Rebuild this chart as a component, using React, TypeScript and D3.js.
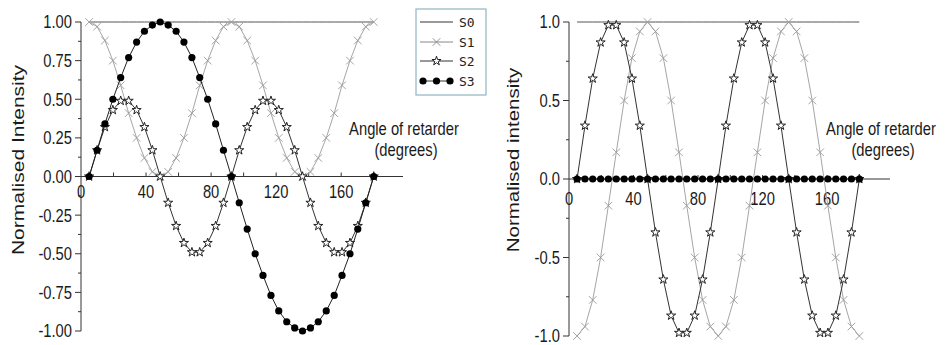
import React from "react";
import * as d3 from "d3";

// angle of retarder (degrees) for each measured point
const angles = [
  5.0, 9.9, 14.7, 19.6, 24.4, 29.3, 34.2, 39.0, 43.9, 48.7, 53.6, 58.5, 63.3, 68.2, 73.0, 77.9, 82.8, 87.6, 92.5,
  97.3, 102.2, 107.1, 111.9, 116.8, 121.6, 126.5, 131.4, 136.2, 141.1, 145.9, 150.8, 155.7, 160.5, 165.4, 170.2,
  175.1, 180.0,
];

const s0 = [
  1, 1, 1, 1, 1, 1, 1, 1, 1, 1, 1, 1, 1, 1, 1, 1, 1, 1, 1, 1, 1, 1, 1, 1, 1, 1, 1, 1, 1, 1, 1, 1, 1, 1, 1, 1, 1,
];

// left panel
const leftS1 = [
  1.0, 0.97, 0.88, 0.75, 0.59, 0.41, 0.25, 0.12, 0.03, 0.0, 0.03, 0.12, 0.25, 0.41, 0.59, 0.75, 0.88, 0.97, 1.0, 0.97,
  0.88, 0.75, 0.59, 0.41, 0.25, 0.12, 0.03, 0.0, 0.03, 0.12, 0.25, 0.41, 0.59, 0.75, 0.88, 0.97, 1.0,
];
const leftS2 = [
  0.0, 0.17, 0.32, 0.43, 0.49, 0.49, 0.43, 0.32, 0.17, 0.0, -0.17, -0.32, -0.43, -0.49, -0.49, -0.43, -0.32, -0.17,
  0.0, 0.17, 0.32, 0.43, 0.49, 0.49, 0.43, 0.32, 0.17, 0.0, -0.17, -0.32, -0.43, -0.49, -0.49, -0.43, -0.32, -0.17, 0.0,
];
const leftS3 = [
  0.0, 0.17, 0.34, 0.5, 0.64, 0.77, 0.87, 0.94, 0.98, 1.0, 0.98, 0.94, 0.87, 0.77, 0.64, 0.5, 0.34, 0.17, 0.0, -0.17,
  -0.34, -0.5, -0.64, -0.77, -0.87, -0.94, -0.98, -1.0, -0.98, -0.94, -0.87, -0.77, -0.64, -0.5, -0.34, -0.17, 0.0,
];

// right panel
const rightS1 = [
  -1.0, -0.94, -0.77, -0.5, -0.17, 0.17, 0.5, 0.77, 0.94, 1.0, 0.94, 0.77, 0.5, 0.17, -0.17, -0.5, -0.77, -0.94, -1.0,
  -0.94, -0.77, -0.5, -0.17, 0.17, 0.5, 0.77, 0.94, 1.0, 0.94, 0.77, 0.5, 0.17, -0.17, -0.5, -0.77, -0.94, -1.0,
];
const rightS2 = [
  0.0, 0.34, 0.64, 0.87, 0.98, 0.98, 0.87, 0.64, 0.34, 0.0, -0.34, -0.64, -0.87, -0.98, -0.98, -0.87, -0.64, -0.34,
  0.0, 0.34, 0.64, 0.87, 0.98, 0.98, 0.87, 0.64, 0.34, 0.0, -0.34, -0.64, -0.87, -0.98, -0.98, -0.87, -0.64, -0.34, 0.0,
];
const rightS3 = [
  0, 0, 0, 0, 0, 0, 0, 0, 0, 0, 0, 0, 0, 0, 0, 0, 0, 0, 0, 0, 0, 0, 0, 0, 0, 0, 0, 0, 0, 0, 0, 0, 0, 0, 0, 0, 0,
];

const xTickLabels = [0, 40, 80, 120, 160];
const xMinorTicks = [20, 40, 60, 80, 100, 120, 140, 160, 180];
const legendNames = ["S0", "S1", "S2", "S3"];

const FONT = "'Liberation Sans', Arial, sans-serif";
const SQUEEZE = 0.82; // the figure is horizontally squashed

const starPath = d3.symbol().type(d3.symbolStar).size(26)() as string;
const crossPath = "M-3.8,-3.8L3.8,3.8M-3.8,3.8L3.8,-3.8";

const Txt = ({ x, y, size, anchor = "middle", rot = false, dy = "0", children }: any) => (
  <text
    transform={`translate(${x},${y}) scale(${SQUEEZE},1)${rot ? " rotate(-90)" : ""}`}
    textAnchor={anchor}
    dy={dy}
    fontFamily={FONT}
    fontSize={size}
    fill="#1a1a1a"
  >
    {children}
  </text>
);

const Panel = ({ cfg }: any) => {
  const x = d3.scaleLinear().domain(cfg.xDomain).range(cfg.xRange);
  const y = d3.scaleLinear().domain([-1, 1]).range(cfg.yRange);
  const line = d3
    .line<number>()
    .x((_, i) => x(angles[i]))
    .y((d) => y(d));
  const y0 = y(0);
  const x0 = x(0);

  return (
    <g>
      {/* axes */}
      <line x1={x0} x2={x0} y1={y(1)} y2={y(-1)} stroke="#333" strokeWidth={1} />
      <line x1={x0} x2={x(cfg.xDomain[1])} y1={y0} y2={y0} stroke="#333" strokeWidth={1} />
      {cfg.yMinor.map((v: number) => (
        <line key={"ym" + v} x1={x0 - 3} x2={x0} y1={y(v)} y2={y(v)} stroke="#333" />
      ))}
      {cfg.yMajor.map((v: number) => (
        <g key={"y" + v}>
          <line x1={x0 - 6} x2={x0} y1={y(v)} y2={y(v)} stroke="#333" />
          <Txt x={x0 - 9} y={y(v)} size={18} anchor="end" dy="0.36em">
            {v.toFixed(cfg.yDigits)}
          </Txt>
        </g>
      ))}
      {xMinorTicks.map((v) => (
        <line key={"xm" + v} x1={x(v)} x2={x(v)} y1={y0} y2={y0 - 4} stroke="#333" />
      ))}
      {xTickLabels.map((v) => (
        <Txt key={"x" + v} x={x(v)} y={y0 + cfg.xLabelDy} size={18}>
          {v}
        </Txt>
      ))}

      {/* S0 */}
      <path d={line(s0) as string} fill="none" stroke="#555" strokeWidth={1} />
      {/* S1 */}
      <path d={line(cfg.s1) as string} fill="none" stroke="#a6a6a6" strokeWidth={1} />
      {cfg.s1.map((v: number, i: number) => (
        <path key={"s1" + i} d={crossPath} transform={`translate(${x(angles[i])},${y(v)})`} stroke="#9a9a9a" strokeWidth={0.9} fill="none" />
      ))}
      {/* S2 */}
      <path d={line(cfg.s2) as string} fill="none" stroke="#333" strokeWidth={1} />
      {cfg.s2.map((v: number, i: number) => (
        <path key={"s2" + i} d={starPath} transform={`translate(${x(angles[i])},${y(v)})`} fill="#fff" stroke="#222" strokeWidth={1} />
      ))}
      {/* S3 */}
      <path d={line(cfg.s3) as string} fill="none" stroke="#222" strokeWidth={1} />
      {cfg.s3.map((v: number, i: number) => (
        <circle key={"s3" + i} cx={x(angles[i])} cy={y(v)} r={3.6} fill="#000" />
      ))}

      {/* titles */}
      <Txt x={cfg.yTitleX} y={160} size={cfg.yTitleSize} rot dy="0.35em">
        {cfg.yTitle}
      </Txt>
      <Txt x={cfg.xTitleX} y={135} size={18}>
        Angle of retarder
      </Txt>
      <Txt x={cfg.xTitleX + 2} y={156} size={18}>
        (degrees)
      </Txt>
    </g>
  );
};

const Legend = () => {
  const left = 420;
  const right = 453;
  const rows = [22, 42, 61, 81];
  const mid = (left + right) / 2;
  return (
    <g>
      <rect x={416} y={9} width={70} height={86} fill="#fff" stroke="#8fb3c3" strokeWidth={1.2} />
      {legendNames.map((name, i) => (
        <g key={name}>
          <line x1={left} x2={right} y1={rows[i]} y2={rows[i]} stroke={i === 1 ? "#888" : "#333"} strokeWidth={1} />
          {i === 1 && <path d={crossPath} transform={`translate(${mid},${rows[i]})`} stroke="#888" fill="none" strokeWidth={0.9} />}
          {i === 2 && <path d={starPath} transform={`translate(${mid},${rows[i]})`} fill="#fff" stroke="#222" strokeWidth={1} />}
          {i === 3 &&
            [left + 3, mid, right - 3].map((cx) => <circle key={cx} cx={cx} cy={rows[i]} r={3.6} fill="#000" />)}
          <text x={459} y={rows[i]} dy="0.36em" fontFamily="'DejaVu Sans Mono', monospace" fontSize={13} fill="#222">
            {name}
          </text>
        </g>
      ))}
    </g>
  );
};

const leftCfg = {
  xDomain: [0, 198],
  xRange: [81, 403],
  yRange: [331, 22],
  yMajor: [-1, -0.75, -0.5, -0.25, 0, 0.25, 0.5, 0.75, 1],
  yMinor: [-0.875, -0.625, -0.375, -0.125, 0.125, 0.375, 0.625, 0.875],
  yDigits: 2,
  xLabelDy: 21,
  s1: leftS1,
  s2: leftS2,
  s3: leftS3,
  yTitle: "Normalised Intensity",
  yTitleX: 18,
  yTitleSize: 21,
  xTitleX: 404,
};

const rightCfg = {
  xDomain: [0, 199],
  xRange: [569, 890],
  yRange: [336, 22],
  yMajor: [-1, -0.5, 0, 0.5, 1],
  yMinor: [-0.75, -0.25, 0.25, 0.75],
  yDigits: 1,
  xLabelDy: 26,
  s1: rightS1,
  s2: rightS2,
  s3: rightS3,
  yTitle: "Normalised intensity",
  yTitleX: 513,
  yTitleSize: 20.5,
  xTitleX: 881,
};

export default function App() {
  return (
    <svg width={945} height={345} style={{ position: "absolute", left: 0, top: 0, background: "#fff" }}>
      <Panel cfg={leftCfg} />
      <Panel cfg={rightCfg} />
      <Legend />
    </svg>
  );
}
